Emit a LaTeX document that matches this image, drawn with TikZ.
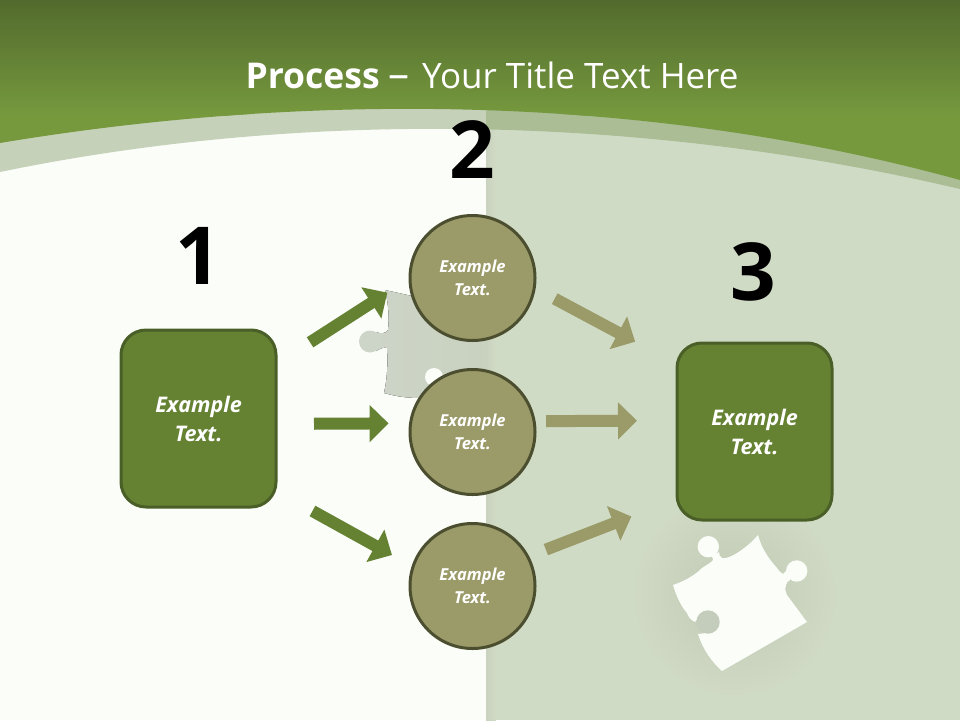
\documentclass[tikz,border=0pt]{standalone}
\usepackage{fontspec}
\setmainfont{Open Sans}
\usetikzlibrary{arrows.meta}
\definecolor{paper}{HTML}{FBFDF8}
\definecolor{panel}{HTML}{D0DBC5}
\definecolor{headtop}{HTML}{526A2D}
\definecolor{headlow}{HTML}{76993E}
\definecolor{bandleft}{HTML}{C6D1B9}
\definecolor{bandright}{HTML}{AABD94}
\definecolor{piecegrey}{HTML}{CDD4C8}
\definecolor{shadowgrey}{HTML}{C4CCBB}
\definecolor{halogrey}{HTML}{B4BEAA}
\definecolor{boxgreen}{HTML}{658132}
\definecolor{boxline}{HTML}{4A5F28}
\definecolor{circfill}{HTML}{9B9A69}
\definecolor{circline}{HTML}{4C4F2F}
\tikzset{
    boxstep/.style={draw=boxline,line width=3pt,fill=boxgreen,rounded corners=25pt,minimum width=155pt,minimum height=177pt,outer sep=0pt,text=white,align=center,font=\fontsize{21.5}{29}\selectfont\bfseries\itshape},
    roundstep/.style={draw=circline,line width=3pt,fill=circfill,circle,minimum size=125pt,inner sep=0pt,outer sep=0pt,text=white,align=center,font=\fontsize{16.5}{23}\selectfont\bfseries\itshape},
    numlabel/.style={font=\fontsize{80}{80}\selectfont\bfseries,text=black,inner sep=0pt},
    blockarrow/.style={line width=12pt,-{Triangle[length=19pt,width=36pt]}}
}
\begin{document}
\begin{tikzpicture}[x=1pt,y=-1pt]
    \useasboundingbox (0,0) rectangle (960,720);
    %% background
    \fill[paper] (0,0) rectangle (960,720);
    \fill[panel] (486,0) rectangle (960,720);
    %% grey puzzle piece
    \fill[left color=piecegrey,right color=shadowgrey!60!panel] (385,290) -- (412,296) -- (486,310) -- (486,395) -- (420,398) .. controls (405,398) and (395,396) .. (384,393) .. controls (387,380) and (388,365) .. (387,348) .. controls (385,347) and (381,348) .. (376,351) -- (376,332) .. controls (381,334) and (385,334) .. (388,330) .. controls (389,320) and (389,305) .. (385,290) -- cycle;
    \fill[piecegrey] (370,341.5) circle (11);
    \fill[paper] (434,377) circle (9);
    \shade[left color=shadowgrey!60!panel,right color=panel] (486,130) rectangle (496,720);
    %% band under the header
    \begin{scope}
        \clip (0,172) .. controls (300,110) and (640,114) .. (960,189) -- (960,0) -- (0,0) -- cycle;
        \fill[bandleft] (0,0) rectangle (486,200);
        \fill[bandright] (486,0) rectangle (960,200);
    \end{scope}
    %% header
    \begin{scope}
        \clip (0,143) .. controls (300,93) and (640,92) .. (960,180) -- (960,0) -- (0,0) -- cycle;
        \shade[top color=headtop,bottom color=headlow] (0,0) rectangle (960,115);
        \fill[headlow] (0,114) rectangle (960,200);
    \end{scope}
    \node[text=white,font=\fontsize{35.5}{36}\selectfont,inner sep=0pt] (title) at (492,75) {\textbf{Process} {\fontsize{42}{36}\selectfont –}\hspace{3pt} \fontsize{35}{36}\selectfont Your Title Text Here};
    %% white puzzle piece
    \foreach \r in {100,94,...,40}
        \fill[halogrey,opacity=0.035] (735,595) circle (\r);
    \fill[paper] (758,535) .. controls (762,550) and (770,560) .. (777,568) .. controls (779,571) and (781,573) .. (783,574) .. controls (785,573) and (787,570) .. (788,567) -- (790,580) .. controls (788,581) and (786,583) .. (786,585) .. controls (785,589) and (785,592) .. (787,595) -- (807,622) -- (722,671) .. controls (712,662) and (703,650) .. (698,634) -- (706,633) -- (700,616) -- (695,622) .. controls (690,620) and (688,616) .. (687,613) .. controls (680,605) and (676,595) .. (673,585) .. controls (685,581) and (695,575) .. (702,568) .. controls (706,565) and (711,563) .. (713,560) -- (712,556) -- (719,552) .. controls (719,555) and (720,557) .. (722,558) .. controls (726,559) and (732,556) .. (737,553) .. controls (745,548) and (752,542) .. (758,535) -- cycle;
    \fill[paper] (708.3,546.7) circle (10.7);
    \fill[paper] (796.7,571) circle (10.7);
    \fill[shadowgrey] (708,622) circle (11.7);
    %% nodes
    \node[boxstep] (box1) at (198.5,418.5) {Example\\Text.};
    \node[boxstep] (box3) at (754.5,431.5) {Example\\Text.};
    \foreach \n/\y in {1/278,2/432,3/586}
        \node[roundstep] (circ\n) at (472.5,\y) {Example\\Text.};
    \node[numlabel] (num1) at (198,256) {1};
    \node[numlabel] (num2) at (472,150) {2};
    \node[numlabel] (num3) at (753,272) {3};
    %% arrows
    \foreach \from/\to/\cuta/\cutb in {box1.35/circ1.180/40.5/27,box1.356.8/circ2.172/38/22,box1.317.2/circ3.162.7/41.7/24.1}
        \draw[blockarrow,boxgreen,shorten <=\cuta pt,shorten >=\cutb pt] (\from) -- (\to);
    \foreach \from/\to/\cuta/\cutb in {circ1.351.7/box3.139.1/23.2/47.5,circ2.10/box3.172.4/12/40,circ3.28.8/box3.221.8/19.5/48.9}
        \draw[blockarrow,circfill,shorten <=\cuta pt,shorten >=\cutb pt] (\from) -- (\to);
\end{tikzpicture}
\end{document}
